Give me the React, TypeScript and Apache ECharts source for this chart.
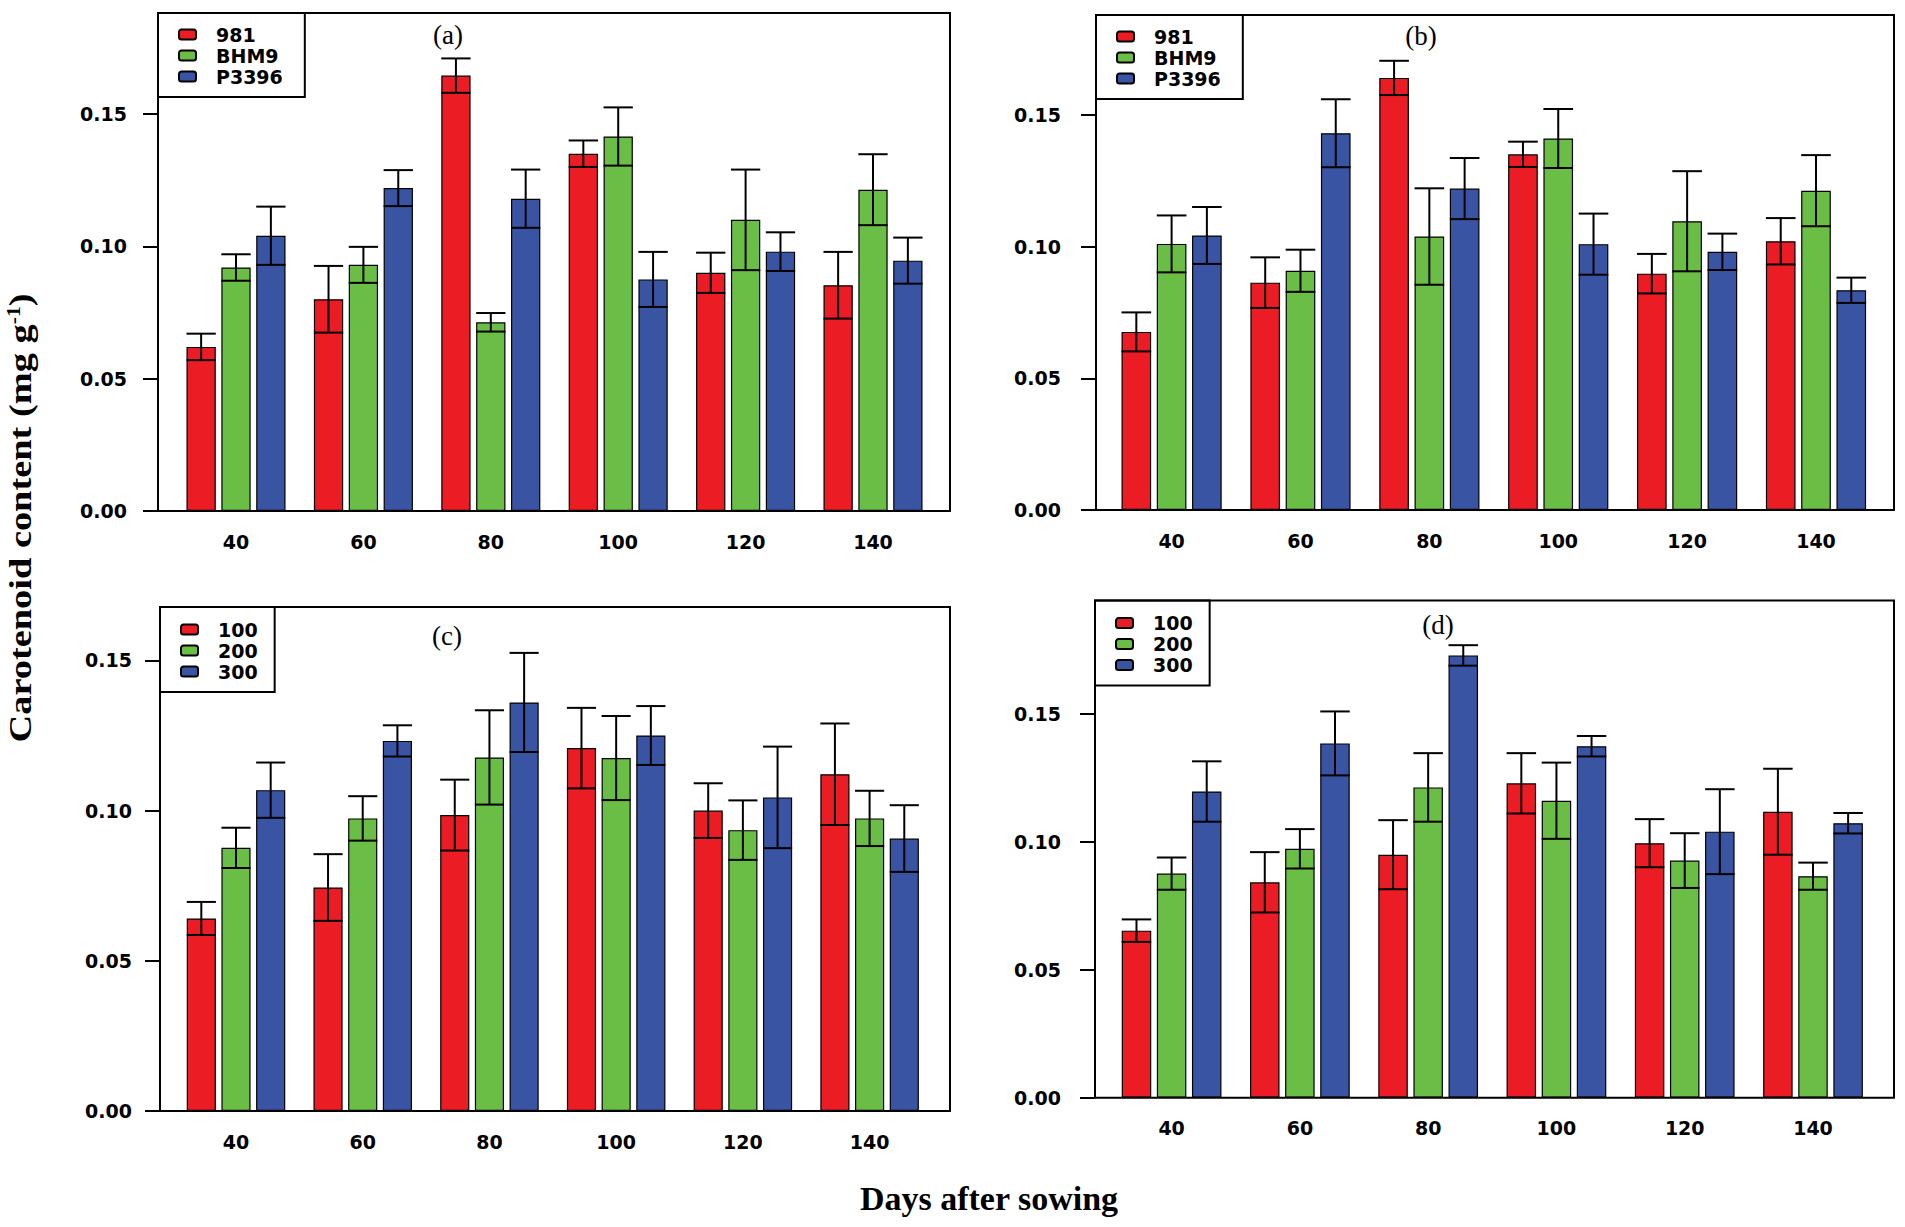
import React, { useEffect, useRef } from "react";
import * as echarts from "echarts";

// ---------- data ----------
const DAYS = ["40", "60", "80", "100", "120", "140"];
const Y_TICKS = [0, 0.05, 0.1, 0.15];
const VARIETIES = ["981", "BHM9", "P3396"];
const NITROGEN = ["100", "200", "300"];
const COLORS = ["#EC1C24", "#6ABD45", "#3A54A4"];

// panel (a)
const A_981 = [0.062, 0.08, 0.1645, 0.135, 0.09, 0.0853];
const A_981_ERR = [0.005, 0.0126, 0.0065, 0.005, 0.0076, 0.0126];
const A_BHM9 = [0.092, 0.093, 0.0713, 0.1415, 0.11, 0.1214];
const A_BHM9_ERR = [0.005, 0.0068, 0.0035, 0.011, 0.019, 0.0134];
const A_P3396 = [0.104, 0.122, 0.118, 0.0875, 0.098, 0.0946];
const A_P3396_ERR = [0.011, 0.0068, 0.011, 0.0104, 0.0073, 0.0087];

// panel (b)
const B_981 = [0.0676, 0.0863, 0.164, 0.135, 0.0897, 0.102];
const B_981_ERR = [0.0074, 0.0096, 0.0065, 0.0048, 0.0075, 0.0088];
const B_BHM9 = [0.101, 0.0908, 0.1038, 0.141, 0.1096, 0.1212];
const B_BHM9_ERR = [0.0108, 0.008, 0.0183, 0.0112, 0.019, 0.0135];
const B_P3396 = [0.1042, 0.143, 0.122, 0.1009, 0.098, 0.0834];
const B_P3396_ERR = [0.0108, 0.0129, 0.0116, 0.0116, 0.0069, 0.0048];

// panel (c)
const C_100 = [0.0641, 0.0744, 0.0985, 0.1208, 0.1, 0.1121];
const C_100_ERR = [0.0055, 0.0111, 0.0118, 0.0134, 0.0091, 0.0169];
const C_200 = [0.0876, 0.0974, 0.1177, 0.1175, 0.0935, 0.0974];
const C_200_ERR = [0.0067, 0.0074, 0.0157, 0.014, 0.0099, 0.0092];
const C_300 = [0.1068, 0.1232, 0.136, 0.125, 0.1044, 0.0907];
const C_300_ERR = [0.0092, 0.0052, 0.0165, 0.0098, 0.0169, 0.0111];

// panel (d)
const D_100 = [0.0653, 0.0842, 0.095, 0.1229, 0.0995, 0.1118];
const D_100_ERR = [0.0044, 0.0118, 0.0135, 0.0118, 0.0094, 0.0168];
const D_200 = [0.0876, 0.0973, 0.1213, 0.1161, 0.0927, 0.0866];
const D_200_ERR = [0.0063, 0.0077, 0.0134, 0.0149, 0.0107, 0.0053];
const D_300 = [0.1197, 0.1385, 0.1729, 0.1374, 0.104, 0.1073];
const D_300_ERR = [0.0118, 0.0125, 0.004, 0.004, 0.0166, 0.004];

const Y_TITLE = "Carotenoid content (mg g{sup|-1})";
const X_TITLE = "Days after sowing";

// ---------- layout ----------
const SANS = "'DejaVu Sans', 'Liberation Sans', sans-serif";
const SERIF = "'Liberation Serif', 'DejaVu Serif', serif";
const BAR_W = 0.23;
const BAR_GAP = 0.19;

const PANELS = [
  {
    tag: "(a)", names: VARIETIES,
    values: [A_981, A_BHM9, A_P3396], errors: [A_981_ERR, A_BHM9_ERR, A_P3396_ERR],
    box: { l: 158, t: 13, r: 950, b: 511 }, y15: 114, c0: 236, c5: 873,
    tagPos: [448, 35], labelMargin: 31, legendPad: [11, 22, 10, 20],
  },
  {
    tag: "(b)", names: VARIETIES,
    values: [B_981, B_BHM9, B_P3396], errors: [B_981_ERR, B_BHM9_ERR, B_P3396_ERR],
    box: { l: 1096, t: 15, r: 1894, b: 510 }, y15: 114.8, c0: 1171.6, c5: 1816,
    tagPos: [1421, 36], labelMargin: 35, legendPad: [11, 22, 10, 20],
  },
  {
    tag: "(c)", names: NITROGEN,
    values: [C_100, C_200, C_300], errors: [C_100_ERR, C_200_ERR, C_300_ERR],
    box: { l: 160, t: 607, r: 950, b: 1111 }, y15: 660.4, c0: 236, c5: 869.6,
    tagPos: [447, 636], labelMargin: 28, legendPad: [12, 17, 10, 20],
  },
  {
    tag: "(d)", names: NITROGEN,
    values: [D_100, D_200, D_300], errors: [D_100_ERR, D_200_ERR, D_300_ERR],
    box: { l: 1095, t: 600.6, r: 1894, b: 1097.7 }, y15: 714, c0: 1171.6, c5: 1813,
    tagPos: [1438, 625], labelMargin: 34, legendPad: [12, 17, 10, 20],
  },
];

function buildOption() {
  const grids: any[] = [];
  const xAxes: any[] = [];
  const yAxes: any[] = [];
  const series: any[] = [];
  const legends: any[] = [];
  const graphics: any[] = [];

  PANELS.forEach((p, i) => {
    const band = (p.c5 - p.c0) / 5;
    const gLeft = p.c0 - band / 2;
    const gHeight = p.box.b - p.box.t;
    const yMax = (0.15 * (p.box.b - p.box.t)) / (p.box.b - p.y15);

    grids.push({ left: gLeft, top: p.box.t, width: band * 6, height: gHeight, show: false });
    xAxes.push({
      type: "category", gridIndex: i, data: DAYS,
      axisLine: { show: false }, axisTick: { show: false }, splitLine: { show: false },
      axisLabel: { margin: 21, color: "#000", fontSize: 19, fontWeight: "bold", fontFamily: SANS },
    });
    yAxes.push({
      type: "value", gridIndex: i, min: 0, max: yMax, offset: gLeft - p.box.l,
      axisLine: { show: false }, splitLine: { show: false },
      axisTick: { show: true, length: 15, customValues: Y_TICKS, lineStyle: { color: "#000", width: 2 } },
      axisLabel: {
        customValues: Y_TICKS, margin: p.labelMargin, color: "#000", fontSize: 19,
        fontWeight: "bold", fontFamily: SANS, formatter: (v: number) => v.toFixed(2),
      },
    });

    p.names.forEach((name, si) => {
      series.push({
        type: "bar", name, xAxisIndex: i, yAxisIndex: i, data: p.values[si],
        barWidth: BAR_W * 100 + "%", barGap: BAR_GAP * 100 + "%",
        itemStyle: { color: COLORS[si], borderColor: "#000", borderWidth: 1.2 },
        z: 2, silent: true,
      });
    });

    const errData: number[][] = [];
    p.names.forEach((_, si) => {
      p.values[si].forEach((v, ci) => errData.push([ci, v, p.errors[si][ci], si]));
    });
    series.push({
      type: "custom", xAxisIndex: i, yAxisIndex: i, z: 3, silent: true,
      encode: { x: 0, y: 1 }, data: errData,
      renderItem: (params: any, api: any) => {
        const ci = api.value(0);
        const v = api.value(1);
        const e = api.value(2);
        const si = api.value(3);
        const bw = api.size([1, 0])[0] * BAR_W;
        const off = (si - 1) * bw * (1 + BAR_GAP);
        const hi = api.coord([ci, v + e]);
        const lo = api.coord([ci, v - e]);
        const x = hi[0] + off;
        const hw = bw / 2;
        const st = { stroke: "#000", lineWidth: 2 };
        return {
          type: "group",
          children: [
            { type: "line", shape: { x1: x, y1: hi[1], x2: x, y2: lo[1] }, style: st },
            { type: "line", shape: { x1: x - hw, y1: hi[1], x2: x + hw, y2: hi[1] }, style: st },
            { type: "line", shape: { x1: x - hw, y1: lo[1], x2: x + hw, y2: lo[1] }, style: st },
          ],
        };
      },
    });

    legends.push({
      data: p.names, left: p.box.l, top: p.box.t, orient: "vertical",
      itemWidth: 17, itemHeight: 10, itemGap: 0, icon: "roundRect", selectedMode: false,
      borderColor: "#000", borderWidth: 2, padding: p.legendPad, backgroundColor: "#fff",
      textStyle: {
        fontSize: 19, fontWeight: "bold", fontFamily: SANS, color: "#000",
        lineHeight: 21, padding: [0, 0, 0, 15],
      },
    });

    graphics.push({
      type: "rect", z: 10, silent: true,
      shape: { x: p.box.l, y: p.box.t, width: p.box.r - p.box.l, height: p.box.b - p.box.t },
      style: { fill: "none", stroke: "#000", lineWidth: 2 },
    });
    graphics.push({
      type: "text", z: 10, x: p.tagPos[0], y: p.tagPos[1], silent: true,
      style: {
        text: p.tag, fontSize: 27, fontFamily: SERIF, fill: "#000",
        align: "center", verticalAlign: "middle",
      },
    });
  });

  graphics.push({
    type: "text", z: 10, x: 989, y: 1198, silent: true,
    style: {
      text: X_TITLE, fontSize: 34, fontWeight: "bold", fontFamily: SERIF, fill: "#000",
      align: "center", verticalAlign: "middle",
    },
  });
  graphics.push({
    type: "text", z: 10, x: 21, y: 518, rotation: Math.PI / 2, scaleX: 1.2, silent: true,
    style: {
      text: Y_TITLE, fontSize: 32, fontWeight: "bold", fontFamily: SERIF, fill: "#000",
      align: "center", verticalAlign: "middle",
      rich: {
        sup: { fontSize: 18, fontWeight: "bold", fontFamily: SERIF, fill: "#000", verticalAlign: "top", lineHeight: 32 },
      },
    },
  });

  return {
    animation: false,
    backgroundColor: "#fff",
    grid: grids,
    xAxis: xAxes,
    yAxis: yAxes,
    legend: legends,
    series,
    graphic: graphics,
  };
}

export default function App() {
  const ref = useRef<HTMLDivElement>(null);
  useEffect(() => {
    if (!ref.current) return;
    const chart = echarts.init(ref.current, null, { renderer: "svg" });
    chart.setOption(buildOption() as any);
    return () => chart.dispose();
  }, []);
  return (
    <div
      ref={ref}
      style={{ position: "fixed", left: 0, top: 0, width: 1905, height: 1227, background: "#fff" }}
    />
  );
}
